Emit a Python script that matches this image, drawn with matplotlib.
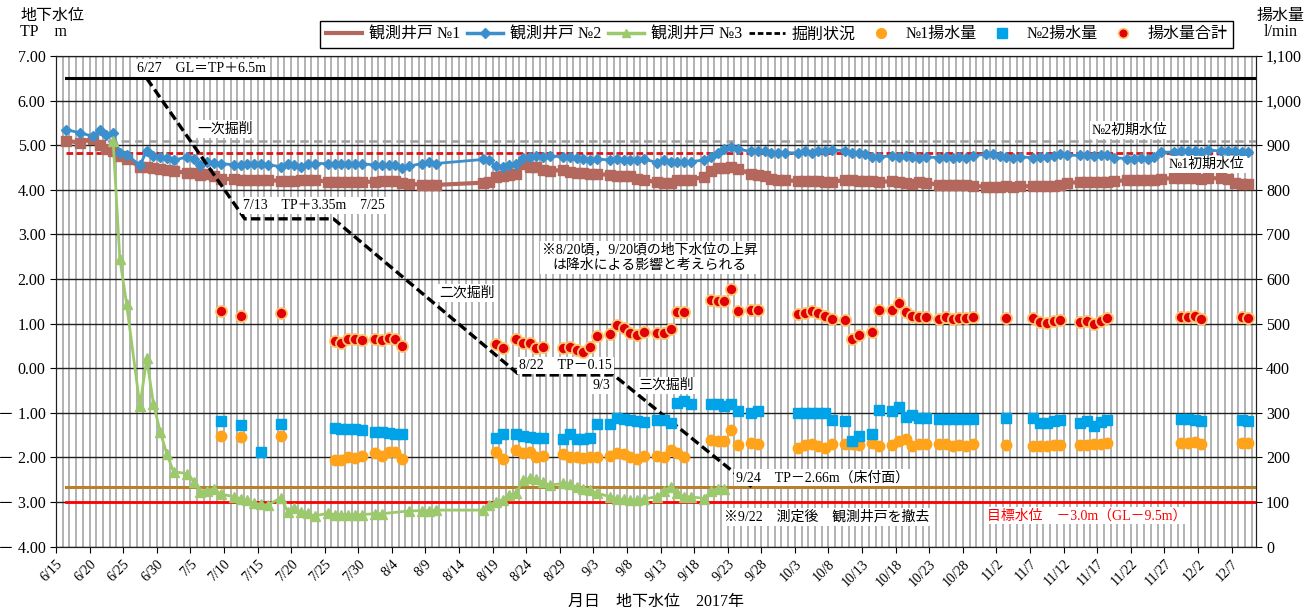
import datetime as dt
import numpy as np
import matplotlib
matplotlib.use('Agg')
import matplotlib.pyplot as plt
from matplotlib.lines import Line2D
from matplotlib.ticker import MultipleLocator, FuncFormatter

plt.rcParams['font.family'] = ['Liberation Serif', 'Noto Sans CJK JP']

start = dt.date(2017, 6, 15)
x_end = 178.6
N = None

# water level (TP m), one entry per day starting 6/16 (day 1)
no1_level = [
    5.10, N, 5.06, N, 5.15, 5.00, 4.92,
    4.86, 4.75, 4.69, N, 4.52, 4.52, 4.50,
    4.47, 4.45, 4.42, N, 4.38, 4.38, 4.34,
    4.36, 4.30, 4.25, N, 4.24, 4.22, 4.22,
    4.23, 4.22, 4.22, N, 4.20, 4.19, 4.20,
    4.21, 4.21, 4.22, N, 4.18, 4.18, 4.18,
    4.18, 4.18, 4.18, N, 4.18, 4.19, 4.19,
    4.20, 4.16, 4.14, N, 4.11, 4.11, 4.11,
    N, N, N, N, N, N, 4.16,
    4.18, 4.28, 4.30, 4.34, 4.36, 4.57, 4.52,
    4.52, 4.44, 4.42, N, 4.45, 4.40, 4.38,
    4.37, 4.36, 4.36, N, 4.33, 4.31, 4.30,
    4.30, 4.24, 4.22, N, 4.17, 4.16, 4.15,
    4.22, 4.23, 4.23, N, 4.29, 4.42, 4.48,
    4.50, 4.51, 4.47, N, 4.35, 4.33, 4.32,
    4.24, 4.22, 4.21, N, 4.20, 4.19, 4.19,
    4.19, 4.18, 4.18, N, 4.22, 4.21, 4.20,
    4.20, 4.19, 4.18, N, 4.19, 4.17, 4.16,
    4.13, 4.17, 4.16, N, 4.11, 4.10, 4.10,
    4.10, 4.10, 4.09, N, 4.07, 4.07, 4.06,
    4.09, 4.07, 4.08, N, 4.08, 4.08, 4.08,
    4.09, 4.10, 4.16, N, 4.17, 4.17, 4.17,
    4.18, 4.18, 4.20, N, 4.21, 4.23, 4.22,
    4.22, 4.23, 4.25, N, 4.26, 4.26, 4.27,
    4.26, 4.25, 4.26, N, 4.26, 4.25, 4.16,
    4.14, 4.13,
]

no2_level = [
    5.35, N, 5.28, N, 5.20, 5.33, 5.23,
    5.27, 4.83, 4.79, N, 4.55, 4.87, 4.76,
    4.74, 4.72, 4.67, N, 4.73, 4.69, 4.56,
    4.63, 4.61, 4.59, N, 4.56, 4.56, 4.58,
    4.58, 4.58, 4.56, N, 4.52, 4.59, 4.56,
    4.52, 4.59, 4.59, N, 4.59, 4.58, 4.59,
    4.58, 4.58, 4.58, N, 4.56, 4.56, 4.56,
    4.56, 4.50, 4.53, N, 4.59, 4.62, 4.59,
    N, N, N, N, N, N, 4.68,
    4.66, 4.53, 4.52, 4.56, 4.59, 4.72, 4.74,
    4.76, 4.74, 4.76, N, 4.74, 4.74, 4.71,
    4.69, 4.67, 4.69, N, 4.67, 4.69, 4.67,
    4.67, 4.67, 4.69, N, 4.61, 4.67, 4.63,
    4.63, 4.63, 4.63, N, 4.67, 4.74, 4.82,
    4.91, 4.95, 4.91, N, 4.86, 4.86, 4.86,
    4.83, 4.83, 4.83, N, 4.83, 4.86, 4.83,
    4.86, 4.86, 4.89, N, 4.88, 4.83, 4.82,
    4.80, 4.74, 4.74, N, 4.76, 4.73, 4.76,
    4.74, 4.72, 4.74, N, 4.72, 4.74, 4.72,
    4.74, 4.72, 4.75, N, 4.81, 4.80, 4.76,
    4.74, 4.72, 4.74, N, 4.72, 4.73, 4.74,
    4.76, 4.80, 4.78, N, 4.77, 4.78, 4.76,
    4.77, 4.78, 4.72, N, 4.70, 4.69, 4.71,
    4.70, 4.73, 4.84, N, 4.85, 4.86, 4.88,
    4.87, 4.85, 4.89, N, 4.87, 4.86, 4.86,
    4.84, 4.85,
]

# No.3 starts 6/23 (day 8), removed after 9/22
no3_first_day = 8
no3_level = [
    5.10, 2.46, 1.45, N, -0.85, 0.22, -0.79,
    -1.42, -1.92, -2.32, N, -2.36, -2.54, -2.77,
    -2.75, -2.70, -2.82, N, -2.88, -2.92, -2.96,
    -3.03, -3.05, -3.07, N, -2.90, -3.22, -3.14,
    -3.22, -3.25, -3.31, N, -3.25, -3.28, -3.28,
    -3.28, -3.28, -3.28, N, -3.26, -3.26, N,
    N, N, -3.20, N, -3.19, -3.19, -3.18,
    N, N, N, N, N, N, -3.18,
    -3.07, -2.99, -2.95, -2.84, -2.80, -2.51, -2.47,
    -2.49, -2.55, -2.62, N, -2.58, -2.60, -2.66,
    -2.70, -2.72, -2.80, N, -2.88, -2.92, -2.94,
    -2.96, -2.95, -2.93, N, -2.88, -2.75, -2.66,
    -2.80, -2.88, -2.88, N, -2.92, -2.75, -2.70,
    -2.70,
]

# excavation progress
dig_days = [13.0, 27.6, 40.8, 68.5, 82.5, 103.1]
dig_level = [6.5, 3.35, 3.35, -0.15, -0.15, -2.66]

gl_level = 6.5
no2_initial = 5.10
no1_initial = 4.83
floor_level = -2.66
target_level = -3.0

# pumping (l/min)
pump_days = [24, 27, 33, 41, 42, 43, 44, 45, 47, 48, 49, 50, 51,
             65, 66, 68, 69, 70, 71, 72, 75, 76, 77, 78, 79, 80, 82, 83, 84, 85, 86, 87,
             89, 90, 91, 92, 93, 97, 98, 99, 100, 101, 103, 104,
             110, 111, 112, 113, 114, 115, 117, 118, 119, 121, 122, 124, 125, 126, 127, 128, 129,
             131, 132, 133, 134, 135, 136, 141, 145, 146, 147, 148, 149,
             152, 153, 154, 155, 156, 167, 168, 169, 170, 176, 177]
pump1 = [248, 245, 248, 194, 194, 200, 198, 203, 209, 203, 213, 213, 196,
         213, 196, 217, 210, 213, 200, 204, 207, 202, 200, 198, 202, 200, 204, 211, 207, 200, 196, 204,
         204, 202, 217, 211, 202, 239, 237, 237, 261, 227, 233, 230,
         222, 227, 230, 226, 222, 230, 230, 230, 227, 233, 226, 227, 237, 242, 226, 230, 230,
         230, 230, 226, 227, 226, 230, 227, 226, 226, 226, 227, 227,
         228, 227, 230, 230, 232, 233, 232, 235, 230, 233, 233]
pump_total = [528, 517, 523, 461, 457, 465, 465, 463, 466, 463, 467, 466, 450,
              454, 446, 465, 456, 456, 446, 448, 446, 448, 442, 437, 447, 472, 477, 497, 491, 478, 474, 482,
              480, 480, 489, 527, 526, 554, 551, 551, 577, 529, 530, 530,
              522, 524, 528, 523, 517, 510, 509, 465, 474, 482, 530, 530, 547, 526, 518, 515, 514,
              511, 514, 510, 512, 512, 514, 513, 513, 504, 501, 507, 509,
              504, 507, 499, 507, 513, 516, 516, 518, 510, 515, 513]
pump2_days = [24, 27, 30, 33, 41, 42, 43, 44, 45, 47, 48, 49, 50, 51,
              65, 66, 68, 69, 70, 71, 72, 75, 76, 77, 78, 79, 80, 82, 83, 84, 85, 86, 87,
              89, 90, 91, 92, 93, 94, 97, 98, 99, 100, 101, 103, 104,
              110, 111, 112, 113, 114, 115, 117, 118, 119, 121, 122, 124, 125, 126, 127, 128, 129,
              131, 132, 133, 134, 135, 136, 141, 145, 146, 147, 148, 149,
              152, 153, 154, 155, 156, 167, 168, 169, 170, 176, 177]
pump2 = [281, 273, 213, 274, 267, 263, 264, 263, 261, 258, 258, 255, 252, 252,
         244, 252, 252, 248, 247, 244, 244, 242, 252, 242, 242, 244, 276, 276, 289, 287, 284, 281, 279,
         284, 284, 278, 322, 326, 319, 321, 319, 316, 319, 304, 300, 304,
         300, 300, 300, 300, 300, 284, 281, 237, 248, 252, 306, 304, 313, 291, 296, 289, 289,
         287, 287, 287, 287, 287, 287, 289, 289, 278, 278, 281, 285,
         278, 281, 270, 279, 285, 287, 287, 285, 281, 285, 281]


def series(first_day, values):
    v = np.array(values, dtype=float)
    d = np.arange(first_day, first_day + len(v)) + 0.5
    ok = ~np.isnan(v)
    return d[ok], v[ok]


c_no1 = '#B4675C'
c_no2 = '#3A8FCC'
c_no3 = '#9BC96B'
c_p1 = '#FFA31A'
c_p2 = '#00A2E8'
c_tot = '#E0000A'

fig = plt.figure(figsize=(13.05, 6.10), dpi=100)
ax = fig.add_axes([56 / 1305, 1 - 546.7 / 610, 1199.7 / 1305, 490.7 / 610])
ax2 = ax.twinx()

ax.set_xlim(0, x_end)
ax.set_ylim(-4, 7)
ax2.set_ylim(0, 1100)

# grid
ax.xaxis.set_major_locator(MultipleLocator(5))
ax.xaxis.set_minor_locator(MultipleLocator(1))
ax.grid(axis='x', which='both', color='#a6a6a6', lw=1.2)
ax.yaxis.set_major_locator(MultipleLocator(1))
ax.grid(axis='y', which='major', color='#202020', lw=1.0)
ax.set_axisbelow(True)

ax.xaxis.set_major_formatter(FuncFormatter(
    lambda v, p: '{d.month}/{d.day}'.format(d=start + dt.timedelta(days=int(round(v))))))
ax.yaxis.set_major_formatter(FuncFormatter(
    lambda v, p: ('－ %.2f' % abs(v)) if v < -0.001 else '%.2f' % abs(v)))
ax2.yaxis.set_major_locator(MultipleLocator(100))
ax2.yaxis.set_major_formatter(FuncFormatter(lambda v, p: '{:,}'.format(int(round(v)))))

ax.tick_params(axis='x', which='major', direction='out', length=4, labelsize=10, labelrotation=45)
ax.tick_params(axis='x', which='minor', length=0)
ax.tick_params(axis='y', direction='out', length=4, labelsize=11.5)
ax2.tick_params(axis='y', direction='out', length=4, labelsize=11.5)
for lab in ax.get_xticklabels():
    lab.set_ha('right')
    lab.set_rotation_mode('anchor')
for sp in ['left', 'right', 'top', 'bottom']:
    ax.spines[sp].set_color('#202020')
    ax2.spines[sp].set_color('#202020')

# reference levels
x0 = 1.5
ax.plot([x0, x_end], [gl_level, gl_level], color='black', lw=2.2, zorder=3)
ax.plot([x0, x_end], [no2_initial, no2_initial], color='#a0a0a0', lw=1.8,
        ls=(0, (3.4, 2.1)), zorder=3)
ax.plot([x0, x_end], [no1_initial, no1_initial], color='#E01010', lw=2.0,
        ls=(0, (2.4, 1.2)), zorder=3)
ax.plot([x0, x_end], [floor_level, floor_level], color='#B8802A', lw=2.2, zorder=3)
ax.plot([x0, x_end], [target_level, target_level], color='#FF0000', lw=2.0, zorder=3)

# water level series
d1, v1 = series(1, no1_level)
d2, v2 = series(1, no2_level)
d3, v3 = series(no3_first_day, no3_level)
ax.plot(d1, v1, color=c_no1, lw=3, marker='s', ms=7.5, mec=c_no1, zorder=4)
ax.plot(d2, v2, color=c_no2, lw=2, marker='D', ms=5, mec=c_no2, zorder=5)
ax.plot(d3, v3, color=c_no3, lw=2, marker='^', ms=6.5, mec=c_no3, zorder=5)
ax.plot(np.array(dig_days) + 0.5, dig_level, color='black', lw=2.4,
        ls=(0, (2.8, 1.3)), zorder=6)

# pumping
pd = np.array(pump_days) + 0.5
ax2.plot(pd, pump1, ls='none', marker='o', ms=7.5, color=c_p1, mec=c_p1, zorder=5)
ax2.plot(np.array(pump2_days) + 0.5, pump2, ls='none', marker='s', ms=7, color=c_p2,
         mec=c_p2, zorder=5)
ax2.plot(pd, pump_total, ls='none', marker='o', ms=8, color=c_tot, mec='#FFC56B',
         mew=1.3, zorder=6)

# annotations
box = dict(fc='white', ec='none', pad=1.5)
notes = [
    (12.1, 6.73, '6/27　GL＝TP＋6.5m', 'black'),
    (21.0, 5.36, '一次掘削', 'black'),
    (27.9, 3.64, '7/13　TP＋3.35m　7/25', 'black'),
    (57.0, 1.69, '二次掘削', 'black'),
    (69.0, 0.07, '8/22　TP－0.15', 'black'),
    (79.9, -0.38, '9/3', 'black'),
    (86.7, -0.38, '三次掘削', 'black'),
    (101.2, -2.45, '9/24　TP－2.66m（床付面）', 'black'),
    (99.4, -3.33, '※9/22　測定後　観測井戸を撤去', 'black'),
    (138.6, -3.30, '目標水位　－3.0m（GL－9.5m）', '#FF0000'),
    (154.2, 5.34, '№2初期水位', 'black'),
    (165.7, 4.57, '№1初期水位', 'black'),
]
for x, y, s, c in notes:
    ax.text(x, y, s, fontsize=10, color=c, ha='left', va='center', bbox=box, zorder=7)
ax.text(88.4, 2.48, '※8/20頃，9/20頃の地下水位の上昇\nは降水による影響と考えられる',
        fontsize=10, ha='center', va='center', linespacing=1.25, bbox=box, zorder=7)

# axis titles
fig.text(20 / 1305, 1 - 8 / 610, '地下水位\nTP　m', fontsize=11.5, ha='left', va='top',
         linespacing=1.0)
fig.text(1281 / 1305, 1 - 8 / 610, '揚水量\nl/min', fontsize=11.5, ha='center', va='top',
         linespacing=1.0)
fig.text(656 / 1305, 1 - 602 / 610, '月日　地下水位　2017年', fontsize=11.5, ha='center',
         va='center')

# legend
handles = [
    Line2D([], [], color=c_no1, lw=3),
    Line2D([], [], color=c_no2, lw=2.5, marker='D', ms=5),
    Line2D([], [], color=c_no3, lw=2.5, marker='^', ms=6),
    Line2D([], [], color='black', lw=2, ls=(0, (2, 1))),
    Line2D([], [], ls='none', marker='o', ms=7, color=c_p1),
    Line2D([], [], ls='none', marker='s', ms=6.5, color=c_p2),
    Line2D([], [], ls='none', marker='o', ms=7, color=c_tot, mec='#FFC56B', mew=1.2),
]
labels = ['観測井戸 №1', '観測井戸 №2', '観測井戸 №3', '掘削状況', '№1揚水量', '№2揚水量', '揚水量合計']
leg = fig.legend(handles, labels, loc='lower left',
                 bbox_to_anchor=(320 / 1305, 1 - 48 / 610, 913 / 1305, 32 / 610),
                 mode='expand', ncol=7, fontsize=11.5, frameon=True, fancybox=False,
                 edgecolor='black', framealpha=1, handlelength=2.3, handletextpad=0.4,
                 columnspacing=0.8, borderaxespad=0, borderpad=0.35)
leg.get_frame().set_linewidth(1.0)

fig.savefig('out.png', dpi=100)
